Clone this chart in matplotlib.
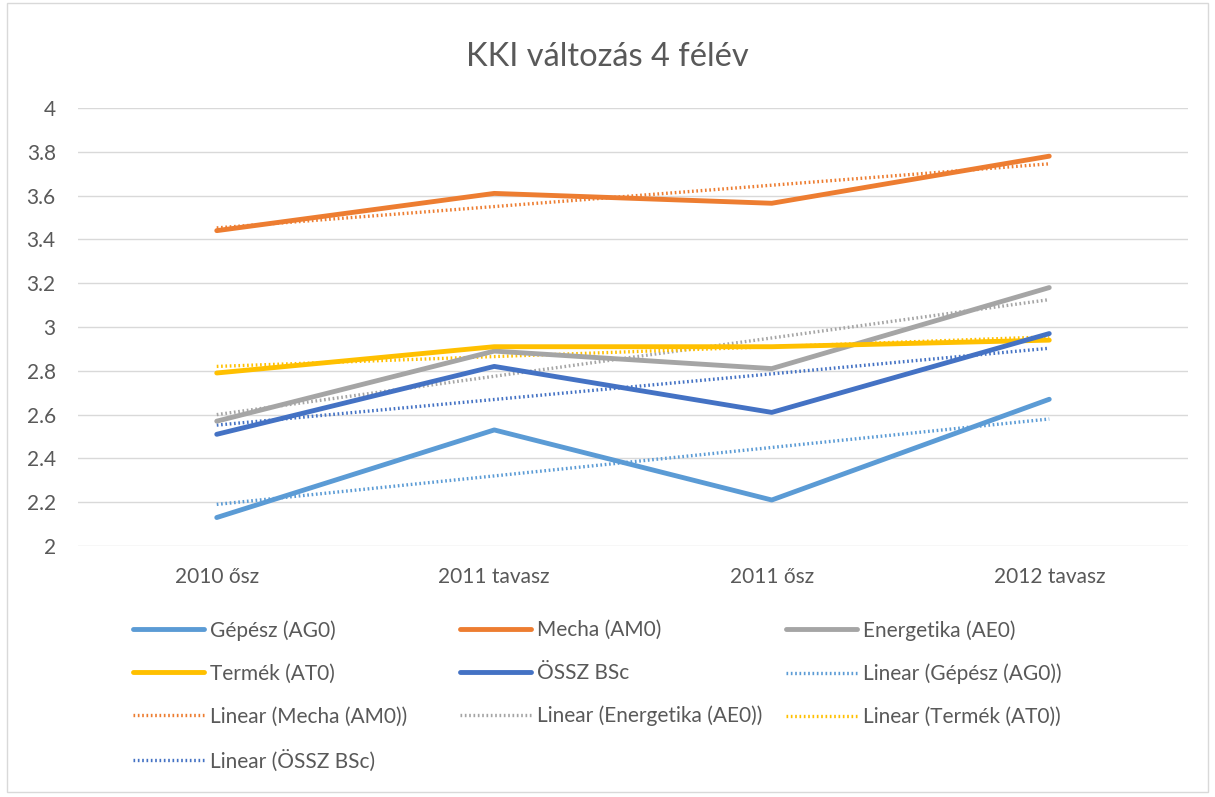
import numpy as np
import matplotlib
matplotlib.use("Agg")
import matplotlib.pyplot as plt
from matplotlib.ticker import FuncFormatter
from matplotlib.patches import Rectangle

plt.rcParams['font.family'] = ['Lato', 'DejaVu Sans']

# adatok
categories = ['2010 ősz', '2011 tavasz', '2011 ősz', '2012 tavasz']
gepesz = [2.13, 2.53, 2.21, 2.67]
mecha = [3.44, 3.61, 3.565, 3.78]
energetika = [2.57, 2.89, 2.81, 3.18]
termek = [2.79, 2.91, 2.91, 2.94]
ossz = [2.51, 2.82, 2.61, 2.97]

series_names = ['Gépész (AG0)', 'Mecha (AM0)', 'Energetika (AE0)', 'Termék (AT0)', 'ÖSSZ BSc']
series_values = [gepesz, mecha, energetika, termek, ossz]
colors = ['#5B9BD5', '#ED7D31', '#A5A5A5', '#FFC000', '#4472C4']

W, H = 1215, 797
fig = plt.figure(figsize=(W / 100, H / 100), dpi=100)
fig.patches.append(Rectangle((0.006, 0.006), 0.988, 0.99, transform=fig.transFigure,
                             fill=False, edgecolor='#D9D9D9', linewidth=1))

ax = fig.add_axes([78 / W, 1 - 546 / H, (1188 - 78) / W, (546 - 108) / H])
x = np.arange(len(categories))

lines = {}
for name, vals, c in zip(series_names, series_values, colors):
    ln, = ax.plot(x, vals, color=c, linewidth=3.5, solid_capstyle='round', zorder=3)
    lines[name] = ln

# lineáris trendvonalak (Excel "Linear")
trend = {}
for name, vals, c in zip(series_names, series_values, colors):
    k, b = np.polyfit(x + 1, vals, 1)
    ln, = ax.plot(x, k * (x + 1) + b, color=c, linewidth=2.4, linestyle=(0, (0.5, 0.8)),
                  zorder=2)
    trend['Linear (' + name + ')'] = ln

ax.set_xlim(-0.5, 3.5)
ax.set_ylim(2, 4)
ax.set_yticks(np.arange(2, 4.01, 0.2))
ax.yaxis.set_major_formatter(FuncFormatter(lambda v, p: f'{v:g}'))
ax.set_xticks(x)
ax.set_xticklabels(categories)
ax.tick_params(axis='both', length=0, labelsize=15, colors='#595959')
ax.tick_params(axis='x', pad=15)
ax.tick_params(axis='y', pad=16)
ax.grid(axis='y', color='#D9D9D9', linewidth=1)
ax.set_axisbelow(True)
for s in ax.spines.values():
    s.set_visible(False)

fig.text(0.5, 1 - 57 / H, 'KKI változás 4 félév', ha='center', va='center',
         fontsize=23.5, color='#595959')

# jelmagyarázat, három oszlop
all_items = {**lines, **trend}
order = list(lines.keys()) + list(trend.keys())
columns = [order[0::3], order[1::3], order[2::3]]
col_x = [133, 460, 786]
for cx, names in zip(col_x, columns):
    leg = fig.legend([all_items[n] for n in names], names, loc='upper left',
                     bbox_to_anchor=(cx / W, 1 - 620 / H), frameon=False,
                     fontsize=15, handlelength=3.4, handletextpad=0.3,
                     labelspacing=1.1, borderpad=0, borderaxespad=0)
    for t in leg.get_texts():
        t.set_color('#595959')

fig.savefig('out.png', dpi=100)
